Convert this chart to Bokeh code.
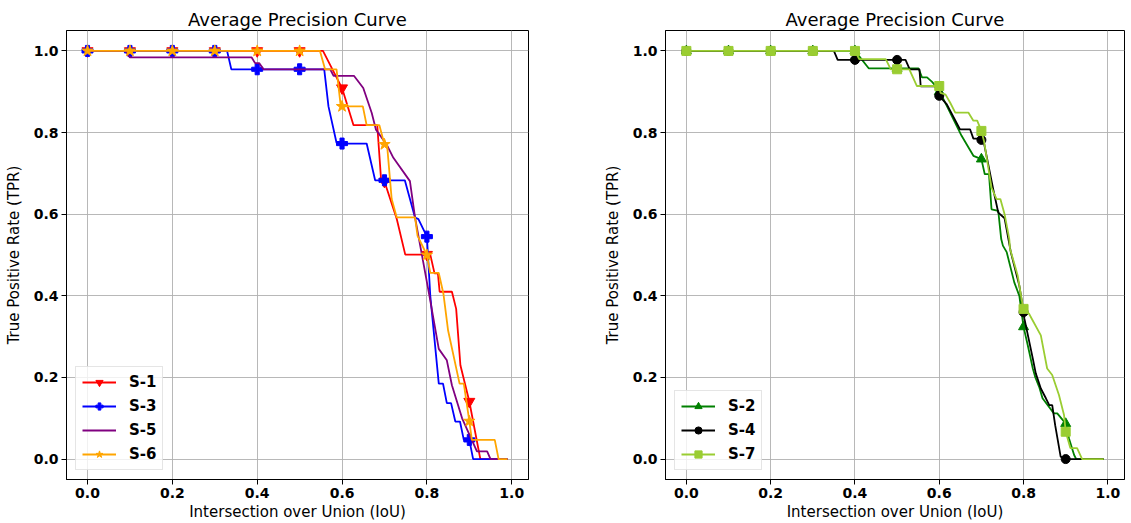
from bokeh.plotting import figure
from bokeh.layouts import row
from bokeh.models import Range1d, FixedTicker, Legend, LegendItem
from bokeh.embed import file_html
from bokeh.resources import INLINE

TITLE = "Average Precision Curve"
XLABEL = "Intersection over Union (IoU)"
YLABEL = "True Positive Rate (TPR)"
tick_values = [0.0, 0.2, 0.4, 0.6, 0.8, 1.0]
tick_labels = ["0.0", "0.2", "0.4", "0.6", "0.8", "1.0"]
marker_iou = [0.0, 0.1, 0.2, 0.3, 0.4, 0.5, 0.6, 0.7, 0.8, 0.9]

# ---- left panel series ----
s1_iou = [0.0, 0.555, 0.6, 0.627, 0.683, 0.692, 0.7, 0.729, 0.749, 0.808, 0.818, 0.826, 0.83, 0.859, 0.869, 0.879, 0.9, 0.926, 0.99]
s1_tpr = [1.0, 1.0, 0.909, 0.818, 0.818, 0.685, 0.68, 0.588, 0.501, 0.501, 0.455, 0.455, 0.41, 0.41, 0.368, 0.23, 0.141, 0.0, 0.0]
s1_marks = [1.0, 1.0, 1.0, 1.0, 1.0, 1.0, 0.909, 0.68, 0.501, 0.141]

s3_iou = [0.0, 0.329, 0.339, 0.558, 0.568, 0.587, 0.6, 0.658, 0.678, 0.748, 0.772, 0.78, 0.8, 0.808, 0.828, 0.838, 0.847, 0.857, 0.867, 0.878, 0.887, 0.9, 0.909, 0.99]
s3_tpr = [1.0, 1.0, 0.955, 0.955, 0.864, 0.775, 0.773, 0.773, 0.683, 0.683, 0.592, 0.588, 0.545, 0.4, 0.185, 0.185, 0.137, 0.137, 0.092, 0.092, 0.047, 0.047, 0.0, 0.0]
s3_marks = [1.0, 1.0, 1.0, 1.0, 0.955, 0.955, 0.773, 0.683, 0.545, 0.047]

s5_iou = [0.0, 0.09, 0.1, 0.387, 0.395, 0.405, 0.415, 0.572, 0.58, 0.628, 0.65, 0.67, 0.68, 0.705, 0.721, 0.76, 0.772, 0.806, 0.828, 0.847, 0.859, 0.883, 0.918, 0.942, 0.95, 0.99]
s5_tpr = [1.0, 1.0, 0.984, 0.984, 0.97, 0.97, 0.955, 0.955, 0.939, 0.939, 0.909, 0.848, 0.807, 0.771, 0.738, 0.681, 0.592, 0.4, 0.27, 0.242, 0.181, 0.1, 0.019, 0.019, 0.0, 0.0]

s6_iou = [0.0, 0.548, 0.56, 0.587, 0.597, 0.649, 0.658, 0.688, 0.7, 0.706, 0.717, 0.729, 0.772, 0.778, 0.8, 0.808, 0.828, 0.839, 0.85, 0.877, 0.887, 0.9, 0.906, 0.96, 0.969, 0.99]
s6_tpr = [1.0, 1.0, 0.955, 0.955, 0.864, 0.864, 0.818, 0.818, 0.771, 0.771, 0.637, 0.592, 0.592, 0.547, 0.5, 0.456, 0.456, 0.405, 0.315, 0.185, 0.185, 0.093, 0.047, 0.047, 0.0, 0.0]
s6_marks = [1.0, 1.0, 1.0, 1.0, 1.0, 1.0, 0.864, 0.771, 0.5, 0.093]

# ---- right panel series ----
s2_iou = [0.0, 0.4, 0.433, 0.551, 0.559, 0.571, 0.583, 0.598, 0.61, 0.653, 0.681, 0.7, 0.708, 0.718, 0.724, 0.74, 0.747, 0.751, 0.76, 0.778, 0.79, 0.8, 0.81, 0.822, 0.828, 0.837, 0.845, 0.872, 0.88, 0.9, 0.908, 0.92, 0.925, 0.99]
s2_tpr = [1.0, 1.0, 0.957, 0.957, 0.935, 0.935, 0.924, 0.906, 0.882, 0.792, 0.743, 0.735, 0.698, 0.698, 0.612, 0.608, 0.539, 0.523, 0.507, 0.433, 0.4, 0.324, 0.279, 0.222, 0.2, 0.177, 0.149, 0.112, 0.112, 0.087, 0.05, 0.01, 0.0, 0.0]
s2_marks = [1.0, 1.0, 1.0, 1.0, 1.0, 0.957, 0.9, 0.735, 0.324, 0.087]

s4_iou = [0.0, 0.35, 0.359, 0.52, 0.53, 0.553, 0.556, 0.59, 0.6, 0.618, 0.649, 0.673, 0.681, 0.695, 0.7, 0.705, 0.728, 0.74, 0.755, 0.77, 0.79, 0.8, 0.802, 0.822, 0.829, 0.841, 0.853, 0.861, 0.868, 0.875, 0.888, 0.9, 0.99]
s4_tpr = [1.0, 1.0, 0.978, 0.978, 0.955, 0.955, 0.913, 0.913, 0.89, 0.869, 0.808, 0.808, 0.785, 0.785, 0.782, 0.78, 0.661, 0.604, 0.59, 0.506, 0.425, 0.36, 0.344, 0.246, 0.21, 0.173, 0.149, 0.132, 0.132, 0.083, 0.006, 0.0, 0.0]
s4_marks = [1.0, 1.0, 1.0, 1.0, 0.978, 0.978, 0.89, 0.782, 0.36, 0.0]

s7_iou = [0.0, 0.4, 0.41, 0.473, 0.485, 0.529, 0.547, 0.6, 0.603, 0.615, 0.626, 0.638, 0.669, 0.681, 0.69, 0.7, 0.706, 0.724, 0.736, 0.745, 0.755, 0.766, 0.768, 0.786, 0.798, 0.8, 0.813, 0.841, 0.856, 0.868, 0.884, 0.896, 0.9, 0.911, 0.927, 0.939, 0.99]
s7_tpr = [1.0, 1.0, 0.98, 0.98, 0.955, 0.955, 0.914, 0.914, 0.897, 0.893, 0.873, 0.849, 0.849, 0.829, 0.829, 0.804, 0.78, 0.665, 0.637, 0.637, 0.6, 0.54, 0.515, 0.45, 0.376, 0.368, 0.356, 0.303, 0.222, 0.206, 0.157, 0.108, 0.067, 0.027, 0.027, 0.0, 0.0]
s7_marks = [1.0, 1.0, 1.0, 1.0, 1.0, 0.955, 0.914, 0.804, 0.368, 0.067]

FONT = "DejaVu Sans"
FIG_H = 523


def make_fig(width, border_left, border_right):
    p = figure(width=width, height=FIG_H, output_backend="svg", toolbar_location=None,
               x_range=Range1d(-0.0495, 1.0395), y_range=Range1d(-0.05, 1.05),
               min_border_left=border_left, min_border_right=border_right,
               min_border_top=30, min_border_bottom=44)
    p.title.text = TITLE
    p.title.align = "center"
    p.title.text_font = FONT
    p.title.text_font_size = "18px"
    p.title.text_font_style = "normal"
    p.title.text_color = "black"
    p.title.standoff = 2
    p.outline_line_color = "black"
    p.outline_line_width = 1
    p.background_fill_color = "white"
    p.border_fill_color = "white"
    for ax in (p.xaxis[0], p.yaxis[0]):
        ax.ticker = FixedTicker(ticks=tick_values)
        ax.major_label_overrides = {v: t for v, t in zip(tick_values, tick_labels)}
        ax.major_label_text_font = FONT
        ax.major_label_text_font_size = "14px"
        ax.major_label_text_font_style = "bold"
        ax.major_label_text_color = "black"
        ax.axis_label_text_font = FONT
        ax.axis_label_text_font_size = "15px"
        ax.axis_label_text_font_style = "normal"
        ax.axis_label_text_color = "black"
        ax.major_tick_in = 0
        ax.major_tick_out = 5
        ax.major_tick_line_color = "black"
        ax.minor_tick_line_color = None
        ax.axis_line_color = "black"
    p.xaxis.axis_label = XLABEL
    p.yaxis.axis_label = YLABEL
    p.xaxis.major_label_standoff = 3
    p.xaxis.axis_label_standoff = 2
    p.yaxis.major_label_standoff = 3
    p.yaxis.axis_label_standoff = 8
    p.grid.grid_line_color = "#b0b0b0"
    p.grid.grid_line_width = 0.9
    p.xgrid.ticker = FixedTicker(ticks=tick_values)
    p.ygrid.ticker = FixedTicker(ticks=tick_values)
    return p


def add_series(p, xs, ys, color, label, marks=None, marker=None, size=10):
    rs = [p.line(xs, ys, line_color=color, line_width=1.8)]
    if marks is not None:
        rs.append(p.scatter(marker_iou, marks, marker=marker, size=size,
                            fill_color=color, line_color=color))
    return LegendItem(label=label, renderers=rs)


def style_legend(items):
    lg = Legend(items=items, location="bottom_left")
    lg.margin = 9
    lg.padding = 6
    lg.spacing = 6
    lg.glyph_width = 34
    lg.glyph_height = 18
    lg.label_height = 18
    lg.label_standoff = 13
    lg.label_text_font = FONT
    lg.label_text_font_size = "15px"
    lg.label_text_font_style = "bold"
    lg.label_text_color = "black"
    lg.border_line_color = "#cccccc"
    lg.border_line_width = 1
    lg.background_fill_alpha = 0.8
    return lg


left = make_fig(600, 66, 72)
items_l = [
    add_series(left, s1_iou, s1_tpr, "#ff0000", "S-1", s1_marks, "inverted_triangle", 11),
    add_series(left, s3_iou, s3_tpr, "#0000ff", "S-3", s3_marks, "plus", 11),
    add_series(left, s5_iou, s5_tpr, "#800080", "S-5"),
    add_series(left, s6_iou, s6_tpr, "#ffa500", "S-6", s6_marks, "star", 12),
]
left.add_layout(style_legend(items_l))

right = make_fig(530, 62, 6)
items_r = [
    add_series(right, s2_iou, s2_tpr, "#008000", "S-2", s2_marks, "triangle", 10),
    add_series(right, s4_iou, s4_tpr, "#000000", "S-4", s4_marks, "circle", 9),
    add_series(right, s7_iou, s7_tpr, "#9acd32", "S-7", s7_marks, "square", 9),
]
right.add_layout(style_legend(items_r))

layout = row(left, right)
open("out.html", "w").write(file_html(layout, INLINE))
